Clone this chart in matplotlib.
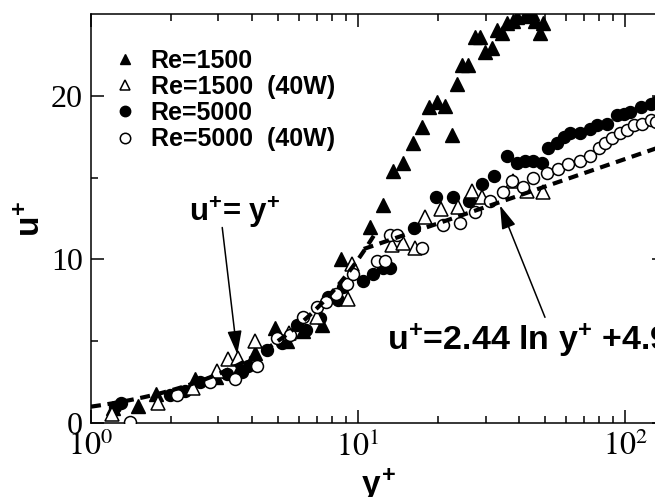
import numpy as np
import matplotlib
matplotlib.use("Agg")
import matplotlib.pyplot as plt

plt.rcParams['mathtext.fontset'] = 'stix'
plt.rcParams['mathtext.rm'] = 'Liberation Sans:bold'
plt.rcParams['mathtext.it'] = 'Liberation Sans:bold'
plt.rcParams['mathtext.bf'] = 'Liberation Sans:bold'

# ---- data ----
re1500_x = [1.21, 1.50, 1.75, 2.45, 2.95, 3.6, 4.1, 4.9, 5.4, 6.2, 7.3, 8.6, 11.1, 12.4,
            13.5, 14.7, 16.1, 17.4, 18.4, 19.7, 21.1, 22.4, 23.5, 24.5, 25.8, 27.5, 28.7,
            29.8, 31.6, 33.2, 34.5, 36.2, 37.9, 39.5, 42.0, 44.8, 45.9, 47.9, 49.3]
re1500_y = [0.9, 1.05, 1.8, 2.7, 2.8, 3.4, 4.3, 5.8, 5.0, 5.6, 6.0, 10.0, 11.95, 13.3,
            15.4, 15.9, 17.1, 18.1, 19.3, 19.6, 19.4, 17.6, 20.7, 21.9, 21.9, 23.6, 23.6,
            22.7, 22.9, 24.0, 23.85, 24.45, 24.6, 24.8, 24.9, 25.05, 24.6, 23.85, 24.45]

re1500w_x = [1.2, 1.78, 2.4, 2.96, 3.26, 3.55, 4.11, 5.5, 7.0, 9.2, 9.5, 13.4, 14.7, 16.4,
             17.8, 20.5, 23.6, 26.7, 29.0, 37.9, 42.8, 49.3]
re1500w_y = [0.55, 1.2, 2.15, 3.2, 3.9, 3.95, 5.0, 5.5, 6.5, 7.6, 9.7, 10.85, 11.0, 10.7,
             12.6, 13.1, 13.2, 14.2, 13.8, 14.8, 14.2, 14.1]

re5000_x = [1.23, 1.3, 1.98, 2.25, 2.56, 3.23, 3.67, 3.87, 4.56, 5.19, 5.9, 6.4, 7.2, 7.7,
            8.4, 8.8, 10.4, 11.4, 12.4, 13.2, 16.2, 19.5, 22.7, 26.0, 29.1, 32.2, 36.2,
            39.4, 42.2, 45.2, 48.7, 51.5, 55.4, 59.0, 62.1, 67.9, 74.0, 78.6, 85.5, 93.4,
            99.0, 104.6, 114.2, 124.7, 130.0]
re5000_y = [1.0, 1.2, 1.7, 1.95, 2.5, 3.0, 3.1, 3.5, 4.45, 4.9, 6.0, 5.7, 6.4, 7.7,
            7.5, 8.3, 8.7, 9.1, 9.5, 9.5, 11.9, 13.8, 13.8, 13.6, 14.6, 15.1, 16.3,
            15.9, 16.0, 16.0, 15.9, 16.8, 17.1, 17.5, 17.7, 17.7, 18.0, 18.2, 18.3, 18.8,
            18.9, 19.0, 19.3, 19.5, 19.6]

re5000w_x = [1.40, 2.1, 2.79, 3.46, 4.18, 4.97, 5.56, 6.2, 7.0, 7.6, 8.3, 9.1, 9.6, 11.8,
             12.6, 13.2, 14.0, 17.4, 20.8, 24.0, 27.5, 31.2, 34.8, 37.8, 41.5, 45.2, 51.0,
             56.0, 61.0, 67.9, 74.0, 79.5, 84.4, 89.5, 95.6, 101.4, 108.0, 115.6, 125.0, 130.0]
re5000w_y = [0.05, 1.7, 2.5, 2.7, 3.5, 5.2, 5.4, 6.5, 7.1, 7.4, 7.9, 8.5, 9.1, 9.9,
             9.9, 11.5, 11.5, 10.7, 12.1, 12.2, 12.9, 13.6, 14.1, 14.8, 14.4, 15.0, 15.3,
             15.5, 15.85, 16.0, 16.3, 16.8, 17.1, 17.4, 17.7, 17.9, 18.2, 18.3, 18.5, 18.4]

# theoretical laws (as annotated on the chart)
kappa_inv = 2.44
B = 4.9
visc_x = np.logspace(0, np.log10(11.5), 60)
log_x = np.logspace(np.log10(10.5), np.log10(141), 60)

labels = ["Re=1500", "Re=1500  (40W)", "Re=5000", "Re=5000  (40W)"]

fig = plt.figure(figsize=(6.55, 4.97), dpi=100)
ax = fig.add_axes([91/655, 74/497, (665-91)/655, (423-14)/497])

ms_t = 9.4
ms_c = 8.6
ax.plot(re1500_x, re1500_y, ls='none', marker='^', ms=ms_t, mfc='k', mec='k', mew=1.0,
        label=labels[0], zorder=4)
ax.plot(re1500w_x, re1500w_y, ls='none', marker='^', ms=ms_t, mfc='white', mec='k', mew=1.1,
        label=labels[1], zorder=5)
ax.plot(re5000_x, re5000_y, ls='none', marker='o', ms=ms_c, mfc='k', mec='k', mew=1.0,
        label=labels[2], zorder=3)
ax.plot(re5000w_x, re5000w_y, ls='none', marker='o', ms=ms_c, mfc='white', mec='k', mew=1.1,
        label=labels[3], zorder=5)

l1, = ax.plot(visc_x, visc_x, color='k', lw=3, zorder=6)
l1.set_dashes([2.4, 1.6])
l2, = ax.plot(log_x, kappa_inv * np.log(log_x) + B, color='k', lw=3, zorder=6)
l2.set_dashes([2.4, 1.6])

ax.set_xscale('log')
ax.set_xlim(1, 141)
ax.set_ylim(0, 25)
ax.set_yticks([0, 10, 20])
ax.set_yticks([5, 15], minor=True)
ax.set_yticklabels(['0', '10', '20'], fontfamily='Liberation Serif', fontsize=23)
ax.set_xticks([1, 10, 100])
ax.set_xticklabels([r'$10^{0}$', r'$10^{1}$', r'$10^{2}$'], fontsize=23)

ax.tick_params(which='both', direction='in', top=True, right=True, width=1.1)
ax.tick_params(which='major', length=9.5, pad=6)
ax.tick_params(which='minor', length=5)
for s in ax.spines.values():
    s.set_linewidth(1.1)

ax.set_xlabel(r'$y^{+}$', fontsize=24, math_fontfamily='custom')
ax.xaxis.set_label_coords(0.5, -0.105)
ax.set_ylabel(r'$u^{+}$', fontsize=24, math_fontfamily='custom')
ax.yaxis.set_label_coords(-0.077, 0.5)

leg = ax.legend(loc='upper left', bbox_to_anchor=(0.017, 0.94), frameon=False,
                prop={'family': 'Liberation Sans', 'weight': 'bold', 'size': 18},
                handletextpad=0.5, labelspacing=0.09, handlelength=1.1,
                borderaxespad=0.0, numpoints=1)
for h in leg.legend_handles:
    h.set_markersize(7.5)

arrow = dict(arrowstyle='-|>,head_length=0.72,head_width=0.22', mutation_scale=20,
             lw=1.1, color='k', shrinkA=0, shrinkB=0)
ax.annotate('', xy=(3.53, 4.2), xytext=(3.10, 11.95), arrowprops=arrow, zorder=7)
ax.text(3.46, 12.3, 'u$^{+}$= y$^{+}$', fontsize=22.5, ha='center', va='baseline',
        fontfamily='Liberation Sans', fontweight='bold', math_fontfamily='custom')
ax.annotate('', xy=(34.0, 13.3), xytext=(50.1, 6.46), arrowprops=arrow, zorder=7)
ax.text(12.86, 4.45, 'u$^{+}$=2.44 ln y$^{+}$ +4.9', fontsize=24.5, ha='left',
        va='baseline', fontfamily='Liberation Sans', fontweight='bold',
        math_fontfamily='custom', clip_on=False)

fig.savefig('out.png', dpi=100)
